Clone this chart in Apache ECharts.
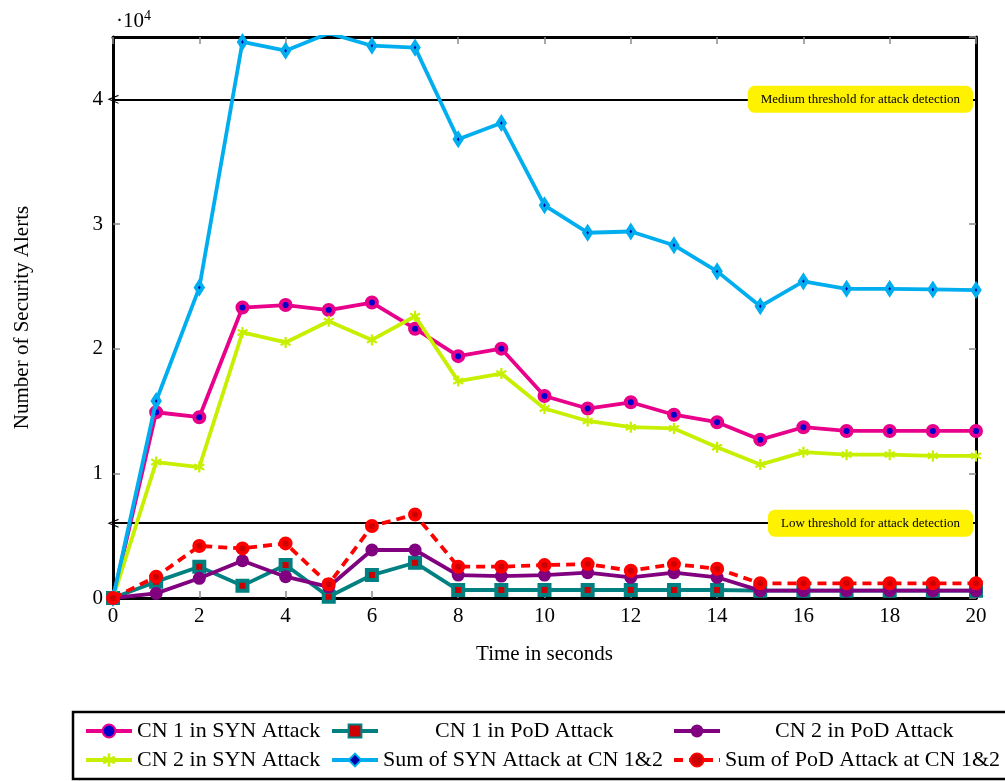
<!DOCTYPE html>
<html>
<head>
<meta charset="utf-8">
<script src="https://cdn.jsdelivr.net/npm/echarts@6/dist/echarts.min.js"></script>
<style>
  html, body { margin: 0; padding: 0; background: #ffffff; }
  #chart { width: 1005px; height: 781px; }
</style>
</head>
<body>
<div id="chart"></div>
<script>
// ---------- data ----------
const time = [0,1,2,3,4,5,6,7,8,9,10,11,12,13,14,15,16,17,18,19,20];
const cn1Syn = [0,14900,14500,23300,23500,23100,23700,21600,19400,20000,16200,15200,15700,14700,14100,12700,13700,13400,13400,13400,13400];
const cn1Pod = [0,1310,2510,990,2640,100,1840,2830,640,640,640,640,640,640,640,590,590,590,590,590,590];
const cn2Pod = [0,370,1580,2990,1710,900,3850,3850,1840,1760,1840,2030,1660,2030,1660,590,590,590,590,590,590];
const cn2Syn = [0,10900,10500,21300,20500,22200,20700,22600,17400,18000,15200,14200,13700,13600,12100,10700,11700,11500,11500,11400,11400];
const sumSyn = [0,15800,24900,44600,43900,45300,44300,44150,36800,38100,31500,29300,29400,28300,26200,23400,25400,24800,24800,24750,24700];
const sumPod = [0,1710,4170,3980,4380,1100,5770,6700,2510,2510,2640,2720,2190,2720,2350,1180,1180,1180,1180,1180,1180];
const seriesNames = ['CN 1 in SYN Attack','CN 1 in PoD Attack','CN 2 in PoD Attack','CN 2 in SYN Attack','Sum of SYN Attack at CN 1&2','Sum of PoD Attack at CN 1&2'];
const thresholdValues = [40000, 6000];
const thresholdLabels = ['Medium threshold for attack detection', 'Low threshold for attack detection'];
const xMin = 0, xMax = 20, xStep = 2;
const yMin = 0, yMax = 45000, yStep = 10000, yScale = 10000;

// ---------- style ----------
const FONT = '"Liberation Serif", "DejaVu Serif", "Times New Roman", serif';
const LW = 3.8;
const asterisk = 'path://M4,0 H6 V3.3 L8.9,1.6 L9.9,3.3 L7,5 L9.9,6.7 L8.9,8.4 L6,6.7 V10 H4 V6.7 L1.1,8.4 L0.1,6.7 L3,5 L0.1,3.3 L1.1,1.6 L4,3.3 Z';
const chevron = 'path://M0,10 L6,0 L12,10 L10.4,10 L6,2.6 L1.6,10 Z';

const pairs = arr => time.map((t, i) => [t, arr[i]]);

const styles = [
  { data: cn1Syn, color: '#e8008a', symbol: 'circle', symbolSize: 10, itemStyle: { color: '#0000cc', borderColor: '#e8008a', borderWidth: 4 }, lineType: 'solid' },
  { data: cn1Pod, color: '#008080', symbol: 'rect', symbolSize: 10, itemStyle: { color: '#cc0000', borderColor: '#008080', borderWidth: 4 }, lineType: 'solid' },
  { data: cn2Pod, color: '#800080', symbol: 'circle', symbolSize: 13, itemStyle: { color: '#800080', borderWidth: 0 }, lineType: 'solid' },
  { data: cn2Syn, color: '#c6f000', symbol: asterisk, symbolSize: 11, itemStyle: { color: '#c6f000', borderWidth: 0 }, lineType: 'solid' },
  { data: sumSyn, color: '#00aeef', symbol: 'diamond', symbolSize: [7, 11], itemStyle: { color: '#0000aa', borderColor: '#00aeef', borderWidth: 4 }, lineType: 'solid' },
  { data: sumPod, color: '#ff0000', symbol: 'circle', symbolSize: 10, itemStyle: { color: '#cc0000', borderColor: '#ff0000', borderWidth: 4 }, lineType: [9, 6] }
];

const series = styles.map((s, i) => ({
  name: seriesNames[i],
  type: 'line',
  data: pairs(s.data),
  symbol: s.symbol,
  symbolSize: s.symbolSize,
  showAllSymbol: true,
  clip: true,
  color: s.color,
  lineStyle: { color: s.color, width: LW, type: s.lineType },
  itemStyle: s.itemStyle,
  emphasis: { disabled: true },
  z: 3 + i
}));

series.unshift({
  name: 'thresholds',
  type: 'line',
  data: [],
  z: 2,
  markLine: {
    silent: true,
    symbol: [chevron, 'none'],
    symbolSize: [9, 11],
    lineStyle: { color: '#000', width: 2, type: 'solid' },
    label: {
      show: true,
      position: 'insideEnd',
      distance: 3,
      color: '#000',
      fontFamily: FONT,
      fontSize: 13,
      backgroundColor: '#fff200',
      borderRadius: 7,
      padding: [7, 13, 7, 13]
    },
    data: thresholdValues.map((v, i) => [
      { coord: [xMin, v], label: { formatter: thresholdLabels[i] } },
      { coord: [xMax, v] }
    ])
  }
});

const tickStyle = { show: true, inside: true, length: 7, lineStyle: { color: '#8a8a8a', width: 1.5 } };
const frameLine = { show: true, onZero: false, lineStyle: { color: '#000', width: 3 } };

const legendCommon = {
  padding: 0,
  itemGap: 0,
  itemWidth: 46,
  itemHeight: 16,
  selectedMode: false,
  lineStyle: { width: 4 },
  textStyle: { fontFamily: FONT, fontSize: 22, color: '#000' }
};
const legendPos = [
  { left: 84, top: 720, pad: 0 },
  { left: 330, top: 720, pad: 52 },
  { left: 672, top: 720, pad: 50 },
  { left: 84, top: 749, pad: 0 },
  { left: 330, top: 749, pad: 0 },
  { left: 672, top: 749, pad: 0 }
];

const option = {
  animation: false,
  backgroundColor: '#ffffff',
  grid: { left: 113, right: 29, top: 37, bottom: 183, containLabel: false },
  legend: legendPos.map((p, i) => Object.assign({}, legendCommon, {
    left: p.left, top: p.top,
    data: [seriesNames[i]],
    textStyle: Object.assign({}, legendCommon.textStyle, { padding: [0, 0, 0, p.pad] })
  })),
  xAxis: [
    {
      type: 'value', position: 'bottom', min: xMin, max: xMax, interval: xStep,
      axisLine: frameLine, axisTick: tickStyle, splitLine: { show: false },
      axisLabel: { color: '#000', fontFamily: FONT, fontSize: 21, margin: 8 },
      name: 'Time in seconds', nameLocation: 'middle', nameGap: 46,
      nameTextStyle: { color: '#000', fontFamily: FONT, fontSize: 21 }
    },
    {
      type: 'value', position: 'top', min: xMin, max: xMax, interval: xStep,
      axisLine: frameLine, axisTick: tickStyle, splitLine: { show: false },
      axisLabel: { show: false }
    }
  ],
  yAxis: [
    {
      type: 'value', position: 'left', min: yMin, max: yMax, interval: yStep,
      axisLine: frameLine, axisTick: tickStyle, splitLine: { show: false },
      axisLabel: {
        color: '#000', fontFamily: FONT, fontSize: 21, margin: 10, showMaxLabel: false,
        formatter: v => (v % yStep === 0 ? String(v / yScale) : '')
      },
      name: 'Number of Security Alerts', nameLocation: 'middle', nameGap: 80,
      nameTextStyle: { color: '#000', fontFamily: FONT, fontSize: 21 }
    },
    {
      type: 'value', position: 'right', min: yMin, max: yMax, interval: yStep,
      axisLine: frameLine, axisTick: tickStyle, splitLine: { show: false },
      axisLabel: { show: false }
    },
    {
      type: 'value', position: 'left', min: yMin, max: yMax, interval: yStep,
      axisLine: { show: false, onZero: false }, axisTick: { show: false }, splitLine: { show: false },
      axisLabel: { show: false },
      name: '{a|·10}{b|4}', nameLocation: 'end', nameGap: 3,
      nameTextStyle: {
        align: 'left', verticalAlign: 'bottom', padding: [0, 0, 0, 3],
        rich: {
          a: { fontFamily: FONT, fontSize: 21, color: '#000' },
          b: { fontFamily: FONT, fontSize: 14, color: '#000', padding: [0, 0, 11, 0] }
        }
      }
    }
  ],
  graphic: [
    {
      type: 'rect', silent: true, z: 0,
      shape: { x: 73, y: 712, width: 1000, height: 67 },
      style: { fill: 'none', stroke: '#000', lineWidth: 2.5 }
    }
  ],
  series: series
};

const chart = echarts.init(document.getElementById('chart'), null, { renderer: 'canvas' });
chart.setOption(option);
</script>
</body>
</html>
